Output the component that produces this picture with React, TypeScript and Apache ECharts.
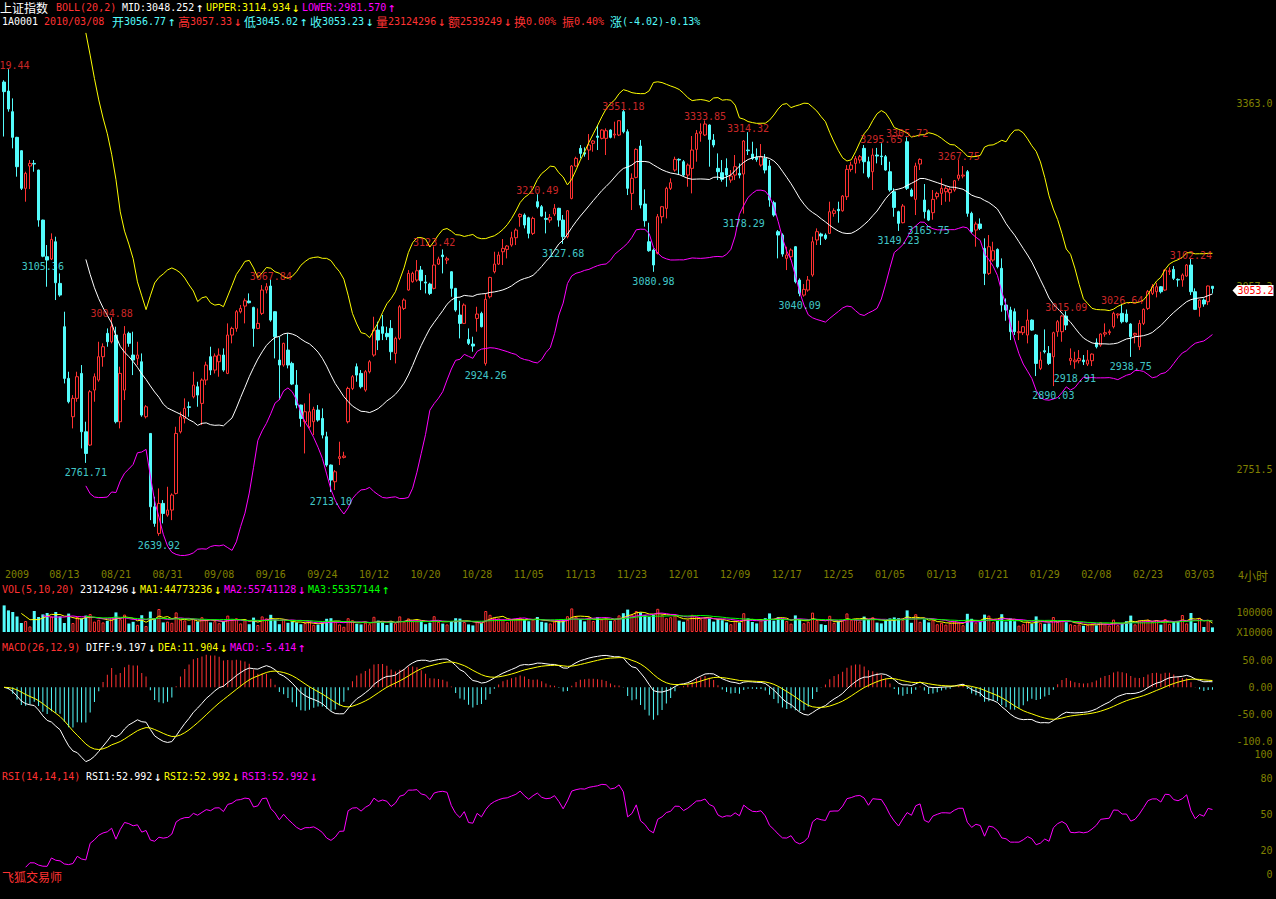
import React, { useEffect, useRef } from 'react';
import * as echarts from 'echarts';

// ---------------- data ----------------
// [open, close, low, high] per 4-hour bar
const ohlc: number[][] = [
  [3398,3382,3307,3401],[3383,3353,3348.5,3419.44],[3348.5,3305.6,3287.2,3370.7],[3305.6,3256.6,3239.9,3306.5],[3283.3,3220.4,3217.6,3284],
  [3220.4,3245.4,3198.1,3248.2],[3257.7,3262.1,3219.2,3267.7],[3262.1,3261.0,3248.2,3267.7],[3251.0,3167.4,3156.3,3251.5],[3167.4,3107.0,3105.36,3168],
  [3106.2,3100.6,3056.0,3125.7],[3102.3,3135.1,3100.6,3145.2],[3131.2,3062.7,3033.8,3139.6],[3061.6,3042.1,3039.3,3078.3],[2989.2,2902.9,2894.5,3014.3],
  [2902.9,2863.9,2861.1,2914.0],[2838.8,2869.5,2819.3,2875.0],[2869.5,2905.7,2863.9,2914.0],[2911.2,2813.7,2785.9,2925.2],[2813.7,2777.5,2761.71,2830.5],
  [2791.5,2880.6,2790.0,2883.4],[2883.4,2905.7,2863.9,2911.2],[2900.1,2939.1,2897.3,2964.1],[2939.1,2955.8,2922.4,2961.4],[2978.1,2964.1,2955.8,2986.4],
  [2964.1,2989.2,2961.4,3004.88],[2975.3,2830.5,2827.7,2989.2],[2830.5,2911.2,2819.3,2922.4],[2883.4,2977.0,2866.7,2990.3],[2978.1,2961.4,2955.8,2980.9],
  [2941.9,2933.5,2908.4,2980.9],[2936.3,2941.9,2925.1,2964.1],[2930.7,2841.6,2838.8,2944.6],[2838.8,2855.5,2836.0,2858.3],[2810.9,2688.4,2666.1,2811.5],
  [2688.4,2660.6,2655.0,2705.1],[2643.9,2694.0,2639.92,2719.1],[2694.0,2677.3,2660.6,2699.6],[2674.5,2682.9,2671.7,2721.8],[2682.9,2708.0,2666.1,2710.7],
  [2710.7,2810.9,2709.0,2822.1],[2813.7,2838.8,2810.9,2847.2],[2836.0,2852.8,2827.7,2869.5],[2855.5,2854.4,2838.8,2863.9],[2872.2,2891.7,2869.5,2914.0],
  [2888.9,2875.0,2855.5,2897.3],[2861.1,2900.1,2824.9,2902.9],[2900.1,2925.2,2891.7,2930.7],[2939.1,2916.8,2908.4,2955.8],[2916.8,2940.2,2911.2,2944.6],
  [2930.7,2941.9,2905.7,2953.0],[2941.9,2916.8,2914.0,2953.0],[2911.2,2975.3,2910.0,2994.8],[2975.3,2986.4,2961.4,2989.2],[2986.4,3014.3,2980.9,3017.1],
  [3014.3,3019.8,3011.5,3025.4],[3023.7,3032.6,2994.8,3036.5],[3032.1,3029.3,3028.2,3044.9],[3021.5,2986.4,2955.8,3022.6],[2986.4,2994.8,2985.0,3019.8],
  [3011.5,3050.5,3008.7,3058.8],[3050.5,3056.0,3044.9,3062.0],[3057.2,3000.3,2997.6,3067.84],[3014.3,2972.5,2936.3,3015.0],[2933.5,2925.2,2866.7,2972.5],
  [2925.2,2961.4,2922.4,2962.5],[2950.2,2925.2,2919.6,2978.1],[2927.9,2893.4,2891.7,2930.7],[2891.7,2858.3,2852.8,2916.8],[2858.3,2836.0,2822.1,2859.0],
  [2830.5,2847.2,2777.5,2861.1],[2822.1,2847.2,2819.3,2877.8],[2830.5,2851.1,2808.2,2855.5],[2850.0,2833.3,2830.5,2858.3],[2836.0,2808.2,2802.6,2852.8],
  [2805.4,2758.1,2755.3,2813.7],[2758.1,2733.0,2713.10,2759.0],[2730.2,2746.9,2716.3,2749.7],[2769.2,2772.0,2758.1,2797.1],[2770.9,2773.1,2769.2,2780.3],
  [2830.5,2886.1,2827.7,2888.9],[2886.1,2905.7,2883.4,2908.4],[2922.4,2908.4,2897.3,2927.9],[2911.2,2888.9,2886.1,2916.8],[2883.4,2914.0,2880.6,2916.8],
  [2914.0,2930.7,2911.2,2933.5],[2941.9,2983.6,2939.1,3005.9],[2983.6,2966.9,2950.2,2997.6],[2989.2,2978.1,2966.9,3008.7],[2978.1,2972.5,2966.9,2989.2],
  [2986.4,2947.4,2933.5,3000.3],[2944.6,2969.7,2927.9,2972.5],[2969.7,3022.6,2966.9,3025.4],[3019.8,3033.8,3017.1,3036.5],[3050.5,3078.3,3049.4,3083.9],
  [3064.4,3078.3,3062.7,3081.1],[3067.2,3082.8,3064.4,3100.6],[3083.9,3066.1,3050.5,3090.6],[3063.9,3062.2,3044.9,3075.6],[3060.5,3044.9,3042.1,3062.7],
  [3053.3,3092.3,3051.6,3123.42],[3093.9,3102.3,3092.3,3106.2],[3109.0,3106.2,3078.3,3118.4],[3100.6,3102.8,3093.9,3106.2],[3081.1,3053.3,3039.3,3082.0],
  [3053.3,3017.1,3014.3,3054.0],[3008.7,2994.8,2969.7,3032.6],[2994.8,3025.4,2993.7,3028.2],[2968.0,2961.4,2958.6,2986.4],[2960.2,2956.9,2947.4,2972.5],
  [3003.1,3010.4,2980.9,3022.6],[3011.5,2989.2,2988.1,3014.3],[2927.9,3034.9,2924.26,3044.9],[3039.3,3071.6,3036.5,3072.7],[3081.1,3093.9,3078.3,3114.5],
  [3093.9,3109.0,3092.3,3114.5],[3114.5,3120.1,3092.3,3135.7],[3118.4,3124.0,3103.4,3125.7],[3125.7,3137.9,3122.9,3147.9],[3137.9,3150.7,3125.7,3153.5],
  [3173.0,3176.9,3156.3,3178.6],[3175.8,3159.1,3153.5,3178.6],[3171.3,3145.2,3136.8,3173.0],[3145.2,3170.2,3142.4,3173.0],[3198.1,3189.7,3186.9,3210.49],
  [3189.7,3174.1,3173.0,3192.5],[3170.2,3168.6,3145.2,3181.4],[3167.4,3171.9,3163.0,3177.5],[3177.5,3187.0,3174.1,3194.2],[3187.0,3167.4,3156.3,3188.0],
  [3167.4,3139.6,3127.68,3175.8],[3139.6,3183.0,3136.8,3184.2],[3203.6,3257.7,3202.0,3259.3],[3257.7,3270.5,3256.6,3273.3],[3287.2,3278.8,3270.5,3292.8],
  [3280.0,3277.7,3273.3,3288.9],[3284.4,3292.8,3267.7,3311.1],[3295.6,3299.5,3281.6,3301.1],[3307.8,3305.6,3284.4,3326.2],[3303.9,3317.8,3302.2,3319.0],
  [3303.9,3316.7,3276.1,3320.6],[3317.8,3305.6,3303.9,3319.0],[3309.5,3311.1,3303.9,3331.8],[3309.5,3333.4,3307.8,3334.5],[3348.5,3315.0,3312.3,3351.18],
  [3315.0,3220.4,3209.2,3319.0],[3212.0,3237.1,3184.2,3245.4],[3238.7,3285.5,3237.1,3287.2],[3291.1,3192.5,3186.9,3301.1],[3194.2,3166.3,3156.3,3218.7],
  [3131.2,3116.2,3114.5,3163.0],[3117.3,3092.3,3080.98,3120.1],[3111.7,3173.0,3110.0,3177.5],[3173.0,3189.7,3161.9,3191.0],[3186.9,3220.4,3170.2,3223.1],
  [3220.4,3229.8,3217.6,3237.1],[3251.0,3268.8,3248.2,3273.3],[3268.8,3267.7,3242.6,3270.5],[3264.9,3242.6,3239.9,3267.7],[3242.6,3259.3,3223.1,3262.1],
  [3253.8,3284.4,3212.0,3307.8],[3285.5,3312.3,3264.9,3317.8],[3312.3,3315.0,3298.3,3329.0],[3309.5,3327.9,3307.8,3333.85],[3326.2,3302.2,3256.6,3327.3],
  [3301.1,3292.8,3288.9,3311.1],[3253.8,3248.2,3234.3,3278.8],[3246.5,3235.4,3231.5,3267.7],[3253.8,3242.6,3223.1,3270.5],[3234.3,3241.0,3229.8,3251.0],
  [3242.6,3256.6,3234.3,3276.1],[3245.4,3242.6,3237.1,3262.1],[3244.3,3299.5,3178.29,3301.1],[3284.4,3283.3,3276.1,3314.32],[3277.7,3270.5,3267.7,3298.3],
  [3272.2,3268.8,3264.9,3287.2],[3259.3,3273.3,3256.6,3294.4],[3270.5,3251.0,3245.4,3277.7],[3257.7,3200.9,3189.7,3267.7],[3196.4,3175.8,3173.0,3199.7],
  [3148.0,3142.4,3103.4,3150.7],[3142.4,3110.6,3106.2,3145.2],[3103.4,3109.0,3083.9,3122.9],[3106.2,3117.3,3100.6,3120.1],[3122.9,3064.4,3061.6,3124.0],
  [3067.2,3044.9,3040.09,3070.0],[3042.1,3051.6,3039.3,3060.5],[3050.5,3067.2,3047.7,3073.9],[3075.6,3131.2,3072.7,3139.6],[3134.1,3148.0,3125.7,3153.5],
  [3144.1,3140.7,3125.7,3146.3],[3142.4,3136.8,3134.1,3145.2],[3145.2,3181.4,3144.1,3198.1],[3178.6,3183.0,3173.0,3187.0],[3185.3,3183.0,3163.0,3198.1],
  [3183.0,3207.5,3181.4,3209.2],[3206.4,3252.1,3200.9,3259.3],[3252.1,3259.3,3248.2,3264.9],[3262.1,3270.0,3245.4,3274.4],[3267.7,3273.3,3262.1,3276.1],
  [3287.2,3264.9,3245.4,3292.8],[3264.9,3239.9,3237.1,3273.3],[3248.2,3276.1,3217.6,3287.2],[3276.1,3274.4,3262.1,3288.0],[3274.4,3273.3,3259.3,3295.65],
  [3273.3,3251.0,3249.9,3276.1],[3248.2,3217.6,3214.8,3264.9],[3214.8,3188.6,3173.0,3220.4],[3181.4,3161.9,3149.23,3183.0],[3163.0,3190.8,3161.9,3194.2],
  [3298.3,3220.4,3217.6,3305.72],[3217.6,3207.5,3206.4,3220.4],[3202.0,3257.7,3175.8,3263.2],[3261.0,3268.8,3251.0,3270.5],[3200.9,3181.4,3170.0,3227.6],
  [3183.0,3167.4,3165.75,3185.3],[3179.7,3202.0,3168.0,3217.6],[3206.4,3212.0,3202.0,3214.8],[3212.0,3220.4,3192.5,3237.1],[3214.8,3220.4,3198.1,3224.3],
  [3213.1,3218.7,3198.1,3222.0],[3217.6,3233.2,3214.8,3234.3],[3237.1,3242.6,3233.2,3267.75],[3241.0,3242.6,3237.1,3257.7],[3248.2,3178.6,3173.0,3251.0],
  [3178.6,3148.0,3145.2,3181.4],[3150.7,3160.8,3122.9,3164.7],[3160.8,3153.5,3150.7,3170.2],[3120.1,3078.3,3058.8,3136.8],[3078.3,3122.9,3075.6,3142.4],
  [3100.6,3116.2,3097.8,3131.2],[3118.4,3089.5,3086.7,3120.1],[3086.7,3025.4,3014.3,3103.4],[3025.4,3017.1,2999.2,3036.5],[3017.1,2980.9,2966.9,3022.6],
  [3014.3,2980.9,2975.3,3019.8],[2979.2,2980.9,2966.9,2999.2],[2979.2,2989.2,2975.3,2990.3],[2975.3,3000.3,2961.4,3018.2],[3000.3,2983.6,2982.5,3001.5],
  [2975.3,2927.9,2906.8,2977.0],[2919.6,2933.5,2916.8,2947.4],[2949.1,2947.4,2944.6,2984.7],[2944.6,2927.9,2925.2,2956.9],[2939.1,2979.2,2890.03,2980.9],
  [2980.9,2997.6,2972.5,3000.3],[2980.9,3007.0,2964.1,3008.7],[3007.0,2992.0,2983.6,3015.09],[2932.4,2936.3,2925.0,2953.0],[2930.7,2933.5,2918.91,2947.4],
  [2932.4,2936.3,2928.0,2950.2],[2933.5,2930.7,2925.2,2941.9],[2926.8,2933.5,2923.5,2950.2],[2932.4,2943.5,2923.5,2944.6],[2962.5,2955.8,2953.0,2969.7],
  [2958.6,2977.0,2955.8,2978.1],[2977.0,2979.2,2972.5,2994.8],[2979.2,2980.9,2975.3,2984.7],[2989.2,3011.5,2986.4,3014.3],[3008.7,3010.4,3003.1,3011.5],
  [3011.5,2997.6,2994.8,3026.64],[3010.4,2997.6,2996.0,3018.0],[2993.7,2972.5,2938.75,2995.0],[2975.3,2978.1,2961.4,2979.2],[2955.8,2994.8,2950.2,3000.3],
  [2994.8,3018.2,2992.0,3019.8],[3019.8,3047.7,3017.1,3050.5],[3044.9,3056.0,3042.1,3060.5],[3047.7,3056.0,3038.2,3062.7],[3056.0,3047.7,3044.9,3057.2],
  [3050.5,3083.9,3049.0,3085.0],[3081.1,3082.8,3075.6,3088.3],[3085.0,3070.0,3067.2,3090.6],[3068.3,3067.2,3056.0,3070.0],[3067.2,3075.6,3056.0,3078.3],
  [3073.9,3092.3,3072.7,3094.0],[3092.3,3047.7,3042.1,3102.24],[3047.7,3018.2,3017.1,3053.3],[3021.5,3033.8,3006.0,3034.9],[3033.8,3027.1,3022.6,3036.5],
  [3031.0,3057.25,3025.4,3058.0],[3056.77,3053.23,3045.02,3057.33],
];

// volume per bar, in units of 10,000 lots
const volumes: number[] = [
  13300,10800,10000,7800,4500,5500,2800,10500,7500,8800,9500,7800,10000,7800,4500,9200,4500,7500,6800,8200,
  9000,5200,6100,4800,5600,7200,9800,6400,8700,4200,5100,3600,8400,3000,10200,6900,11500,4800,5200,4600,
  9800,6200,5800,3400,6600,5200,7400,6000,4800,5400,4400,5300,8200,6100,6900,4300,5800,3900,7200,3500,
  7800,6800,8600,6200,3900,6500,4600,5200,4800,3900,4500,5000,3600,3700,4800,6600,6900,5100,3800,2600,
  6900,5900,4100,3800,4700,3900,7600,5700,4800,3500,5500,4400,7800,5200,6800,5400,6100,5500,3900,4600,
  7900,5100,4200,3800,5400,6900,6700,5000,3800,3300,5500,4400,10500,8600,7100,6800,6200,4900,6300,6500,
  7200,6100,5400,6200,7500,5100,4700,4300,5200,5800,6000,7900,11800,7600,6400,5300,7300,5500,7400,6300,
  6700,5600,5900,8300,9400,11200,8700,10500,9800,8400,7600,8500,11600,8600,6900,7400,8200,5700,5100,6200,
  8600,7700,6400,7100,6800,5200,6500,5900,4800,3900,5600,4700,9400,6800,5000,4300,5800,6900,9300,5700,
  7400,6600,5500,4200,8300,6000,4400,5100,9700,6000,3900,3500,8100,4600,5400,5900,9300,6100,6400,5300,
  7700,6200,7400,4700,4300,5900,6800,7300,6900,6100,10800,4600,8900,5100,6300,4800,5900,3900,4600,3700,
  4500,5200,4800,3400,9100,6600,4700,5100,8700,8200,4900,5600,8900,5200,6800,5400,3200,3900,5300,4200,
  7800,4600,4100,4300,7500,5100,5800,4900,3900,3500,3800,3100,3600,4200,3300,5000,3900,3300,6200,3400,
  4600,5400,8200,3800,5800,5600,6200,5100,6000,3700,6500,4073,5500,5554,8500,4300,9500,4500,7075,2500,
  6000,2312.43,
];

// date tick labels: [bar index, label]
const xTicks: [number, string][] = [
  [3,'2009'],[14,'08/13'],[26,'08/21'],[38,'08/31'],[50,'09/08'],[62,'09/16'],[74,'09/24'],[86,'10/12'],
  [98,'10/20'],[110,'10/28'],[122,'11/05'],[134,'11/13'],[146,'11/23'],[158,'12/01'],[170,'12/09'],[182,'12/17'],
  [194,'12/25'],[206,'01/05'],[218,'01/13'],[230,'01/21'],[242,'01/29'],[254,'02/08'],[266,'02/23'],[278,'03/03'],
];

const priceTicks = [2751.5, 3057.25, 3363.0];
const volTicks = [0, 10000];
const macdTicks = [50, 0, -50, -100];
const rsiTicks = [0, 20, 50, 80, 100];

// annotated local highs / lows: [bar index, price]
const highMarks: [number, number][] = [
  [1,3419.44],[25,3004.88],[62,3067.84],[100,3123.42],[124,3210.49],[144,3351.18],[163,3333.85],
  [173,3314.32],[204,3295.65],[210,3305.72],[222,3267.75],[247,3015.09],[260,3026.64],[276,3102.24],
];
const lowMarks: [number, number][] = [
  [9,3105.36],[19,2761.71],[36,2639.92],[76,2713.10],[112,2924.26],[130,3127.68],[151,3080.98],
  [172,3178.29],[185,3040.09],[208,3149.23],[215,3165.75],[244,2890.03],[249,2918.91],[262,2938.75],
];

// ---------------- colours / fonts ----------------
const RED = '#ff3232';
const CYAN = '#54fcfc';
const WHITE = '#ffffff';
const YELLOW = '#ffff00';
const MAGENTA = '#ff00ff';
const GREEN = '#00ff00';
const OLIVE = '#808000';
const MONO = 'DejaVu Sans Mono';
const MONO_FONT = '10px "DejaVu Sans Mono"';
const ARROW_FONT = '13px "DejaVu Sans Mono"';
const CJK_FONT = '12px "Noto Sans CJK SC"';

// header text segments
type Seg = { t: string; c: string; x?: number };
const headLine1: Seg[] = [
  { t: '上证指数', c: WHITE, x: 0 }, { t: 'BOLL(20,2)', c: RED, x: 56 }, { t: ' ', c: WHITE },
  { t: 'MID:3048.252', c: WHITE }, { t: '↑', c: WHITE },
  { t: 'UPPER:3114.934', c: YELLOW }, { t: '↓', c: YELLOW },
  { t: 'LOWER:2981.570', c: MAGENTA }, { t: '↑', c: MAGENTA },
];
const headLine2: Seg[] = [
  { t: '1A0001', c: WHITE, x: 2 }, { t: ' ', c: WHITE }, { t: '2010/03/08', c: RED },
  { t: '开', c: CYAN, x: 112 }, { t: '3056.77', c: CYAN }, { t: '↑', c: CYAN },
  { t: '高', c: RED }, { t: '3057.33', c: RED }, { t: '↓', c: RED },
  { t: '低', c: CYAN }, { t: '3045.02', c: CYAN }, { t: '↑', c: CYAN },
  { t: '收', c: CYAN }, { t: '3053.23', c: CYAN }, { t: '↓', c: CYAN },
  { t: '量', c: RED }, { t: '23124296', c: RED }, { t: '↓', c: RED },
  { t: '额', c: RED }, { t: '2539249', c: RED }, { t: '↓', c: RED },
  { t: '换', c: RED }, { t: '0.00%', c: RED }, { t: ' ', c: RED },
  { t: '振', c: RED }, { t: '0.40%', c: RED }, { t: ' ', c: RED },
  { t: '涨', c: CYAN }, { t: '(-4.02)-0.13%', c: CYAN },
];
const volHead: Seg[] = [
  { t: 'VOL(5,10,20)', c: RED, x: 2 }, { t: ' ', c: RED },
  { t: '23124296', c: WHITE }, { t: '↓', c: WHITE },
  { t: 'MA1:44773236', c: YELLOW }, { t: '↓', c: YELLOW },
  { t: 'MA2:55741128', c: MAGENTA }, { t: '↓', c: MAGENTA },
  { t: 'MA3:55357144', c: GREEN }, { t: '↑', c: GREEN },
];
const macdHead: Seg[] = [
  { t: 'MACD(26,12,9)', c: RED, x: 2 }, { t: ' ', c: RED },
  { t: 'DIFF:9.197', c: WHITE }, { t: '↓', c: WHITE },
  { t: 'DEA:11.904', c: YELLOW }, { t: '↓', c: YELLOW },
  { t: 'MACD:-5.414', c: MAGENTA }, { t: '↑', c: MAGENTA },
];
const rsiHead: Seg[] = [
  { t: 'RSI(14,14,14)', c: RED, x: 2 }, { t: ' ', c: RED },
  { t: 'RSI1:52.992', c: WHITE }, { t: '↓', c: WHITE },
  { t: 'RSI2:52.992', c: YELLOW }, { t: '↓', c: YELLOW },
  { t: 'RSI3:52.992', c: MAGENTA }, { t: '↓', c: MAGENTA },
];
const periodLabel: Seg[] = [{ t: '4', c: OLIVE, x: 1238 }, { t: '小时', c: OLIVE }];
const brandLabel: Seg[] = [{ t: '飞狐交易师', c: RED, x: 2 }];

// ---------------- indicators ----------------
const closes = ohlc.map((d) => d[1]);

function movingAvg(vals: number[], n: number): (number | null)[] {
  return vals.map((_, i) => {
    if (i < n - 1) return null;
    let s = 0;
    for (let k = i - n + 1; k <= i; k++) s += vals[k];
    return s / n;
  });
}
function movingStd(vals: number[], n: number): (number | null)[] {
  const m = movingAvg(vals, n);
  return vals.map((_, i) => {
    if (m[i] == null) return null;
    let s = 0;
    for (let k = i - n + 1; k <= i; k++) s += (vals[k] - (m[i] as number)) ** 2;
    return Math.sqrt(s / (n - 1));
  });
}
function ema(vals: number[], n: number): number[] {
  const a = 2 / (n + 1);
  const out: number[] = [];
  vals.forEach((v, i) => out.push(i === 0 ? v : a * v + (1 - a) * out[i - 1]));
  return out;
}
function rsi(vals: number[], n: number): (number | null)[] {
  const out: (number | null)[] = [null];
  let up = -1, ab = -1;
  for (let i = 1; i < vals.length; i++) {
    const d = vals[i] - vals[i - 1];
    const u = Math.max(d, 0), a = Math.abs(d);
    if (up < 0) { up = u; ab = a; } else { up = (u + (n - 1) * up) / n; ab = (a + (n - 1) * ab) / n; }
    out.push(up > 0 && ab > 0 ? (up / ab) * 100 : null);
  }
  return out;
}

const mid = movingAvg(closes, 20);
const sd = movingStd(closes, 20);
const upper = mid.map((m, i) => (m == null ? null : m + 2 * (sd[i] as number)));
const lower = mid.map((m, i) => (m == null ? null : m - 2 * (sd[i] as number)));
const e12 = ema(closes, 12);
const e26 = ema(closes, 26);
const diff = e12.map((v, i) => v - e26[i]);
const dea = ema(diff, 9);
const macd = diff.map((v, i) => 2 * (v - dea[i]));
// RSI1, RSI2 and RSI3 all use period 14, so they coincide; the last drawn (magenta) is the visible one
const rsiVals = rsi(closes, 14);
const volMa1 = movingAvg(volumes, 5);
const volMa2 = movingAvg(volumes, 10);
const volMa3 = movingAvg(volumes, 20);

const categories = ohlc.map((_, i) => String(i));
const tickMap: Record<number, string> = {};
xTicks.forEach(([i, t]) => { tickMap[i] = t; });

// ---------------- layout ----------------
const GRID_LEFT = 2;
const GRID_RIGHT = 61.4;
const grids = [
  { top: 30, height: 530 },
  { top: 597, height: 35 },
  { top: 650, height: 116 },
  { top: 754.5, height: 119.5 },
];
const PRICE_MIN = 2599.46;
const PRICE_MAX = 3484.97;

function layoutSegs(segs: Seg[], y: number) {
  const els: any[] = [];
  let x = 0;
  for (const s of segs) {
    if (s.x !== undefined) x = s.x;
    const isArrow = s.t === '↑' || s.t === '↓';
    const isCjk = /[\u4e00-\u9fff]/.test(s.t);
    const w = isArrow ? 12 : isCjk ? 12 * s.t.length : 6 * s.t.length;
    if (s.t.trim() !== '') {
      els.push({
        type: 'text', x: isArrow ? x + 2 : x, y, silent: true, z: 50,
        style: {
          text: s.t, fill: s.c,
          font: isArrow ? ARROW_FONT : isCjk ? CJK_FONT : MONO_FONT,
          verticalAlign: 'middle',
        },
      });
    }
    x += w;
  }
  return els;
}

function yAxisCfg(gridIndex: number, min: number, max: number, ticks: number[], fmt: (v: number) => string) {
  return {
    type: 'value', gridIndex, position: 'right', min, max, scale: false,
    splitLine: { show: false }, axisLine: { show: false }, axisTick: { show: false },
    axisLabel: {
      show: true, customValues: ticks, formatter: fmt, color: OLIVE, fontFamily: MONO, fontSize: 10,
      align: 'right', margin: 58,
    },
  };
}

function lineSeries(data: (number | null)[], color: string, xi: number, z = 3) {
  return {
    type: 'line', xAxisIndex: xi, yAxisIndex: xi, data, showSymbol: false, symbol: 'none',
    lineStyle: { width: 1, color }, itemStyle: { color }, silent: true, z, connectNulls: false,
  };
}

export default function App() {
  const ref = useRef<HTMLDivElement>(null);
  useEffect(() => {
    if (!ref.current) return;
    const chart = echarts.init(ref.current, undefined, { renderer: 'svg', width: 1276, height: 899 });

    const volData = volumes.map((v, i) => {
      const up = ohlc[i][1] >= ohlc[i][0];
      return {
        value: v,
        itemStyle: up ? { color: '#000000', borderColor: RED, borderWidth: 1 } : { color: CYAN, borderColor: CYAN, borderWidth: 0 },
      };
    });
    const macdData = macd.map((v) => ({ value: v, itemStyle: { color: v >= 0 ? RED : CYAN } }));

    const option: any = {
      animation: false,
      backgroundColor: '#000000',
      grid: grids.map((g) => ({ left: GRID_LEFT, right: GRID_RIGHT, top: g.top, height: g.height, containLabel: false, outerBoundsMode: 'none' })),
      xAxis: grids.map((_, gi) => ({
        type: 'category', gridIndex: gi, data: categories, boundaryGap: true,
        axisLine: { show: false }, axisTick: { show: false }, splitLine: { show: false },
        axisLabel: gi === 0
          ? { show: true, interval: 0, formatter: (_v: string, idx: number) => tickMap[idx] ?? '', color: OLIVE, fontFamily: MONO, fontSize: 10, margin: 9 }
          : { show: false },
      })),
      yAxis: [
        yAxisCfg(0, PRICE_MIN, PRICE_MAX, priceTicks, (v) => v.toFixed(1)),
        yAxisCfg(1, 0, 17500, volTicks, (v) => (v === 0 ? 'X10000' : '100000')),
        yAxisCfg(2, -144.7, 68.6, macdTicks, (v) => v.toFixed(2).slice(0, 6)),
        yAxisCfg(3, 0, 100, rsiTicks, (v) => String(v)),
      ],
      series: [
        {
          type: 'candlestick', xAxisIndex: 0, yAxisIndex: 0, data: ohlc, barWidth: 3, silent: true, z: 2,
          itemStyle: { color: '#000000', color0: CYAN, borderColor: RED, borderColor0: CYAN, borderColorDoji: RED, borderWidth: 1 },
        },
        lineSeries(mid, WHITE, 0),
        lineSeries(upper, YELLOW, 0),
        lineSeries(lower, MAGENTA, 0),
        {
          type: 'scatter', xAxisIndex: 0, yAxisIndex: 0, data: highMarks, symbolSize: 1, silent: true, z: 5,
          itemStyle: { color: 'rgba(0,0,0,0)' },
          label: { show: true, position: 'inside', offset: [0, -3.5], formatter: (p: any) => p.value[1].toFixed(2), color: RED, fontFamily: MONO, fontSize: 10 },
        },
        {
          type: 'scatter', xAxisIndex: 0, yAxisIndex: 0, data: lowMarks, symbolSize: 1, silent: true, z: 5,
          itemStyle: { color: 'rgba(0,0,0,0)' },
          label: { show: true, position: 'inside', offset: [0, 9.5], formatter: (p: any) => p.value[1].toFixed(2), color: CYAN, fontFamily: MONO, fontSize: 10 },
        },
        { type: 'bar', xAxisIndex: 1, yAxisIndex: 1, data: volData, barWidth: 3, silent: true, z: 2 },
        lineSeries(volMa1, YELLOW, 1),
        lineSeries(volMa2, MAGENTA, 1),
        lineSeries(volMa3, GREEN, 1),
        { type: 'bar', xAxisIndex: 2, yAxisIndex: 2, data: macdData, barWidth: 1, silent: true, z: 2 },
        lineSeries(diff, WHITE, 2),
        lineSeries(dea, YELLOW, 2),
        lineSeries(rsiVals, MAGENTA, 3, 4),
      ],
    };
    chart.setOption(option);

    const lastClose = closes[closes.length - 1];
    const pt = chart.convertToPixel({ gridIndex: 0 } as any, [0, lastClose]) as number[];
    const ty = pt[1] + 2;
    const tag = [
      {
        type: 'polygon', silent: true, z: 100,
        shape: { points: [[1232.5, ty], [1237.5, ty - 5.5], [1273.5, ty - 5.5], [1273.5, ty + 5.5], [1237.5, ty + 5.5]] },
        style: { fill: '#ffffff' },
      },
      {
        type: 'text', x: 1237.5, y: ty, silent: true, z: 101,
        style: { text: lastClose.toFixed(1), fill: '#ff0000', font: MONO_FONT, verticalAlign: 'middle' },
      },
    ];

    chart.setOption({
      graphic: [
        ...layoutSegs(headLine1, 7),
        ...layoutSegs(headLine2, 21),
        ...layoutSegs(volHead, 589),
        ...layoutSegs(macdHead, 647),
        ...layoutSegs(rsiHead, 776),
        ...layoutSegs(periodLabel, 575),
        ...layoutSegs(brandLabel, 876),
        ...tag,
      ],
    });

    return () => chart.dispose();
  }, []);

  return (
    <div
      ref={ref}
      style={{ position: 'fixed', left: 0, top: 0, width: 1276, height: 899, background: '#000000' }}
    />
  );
}
